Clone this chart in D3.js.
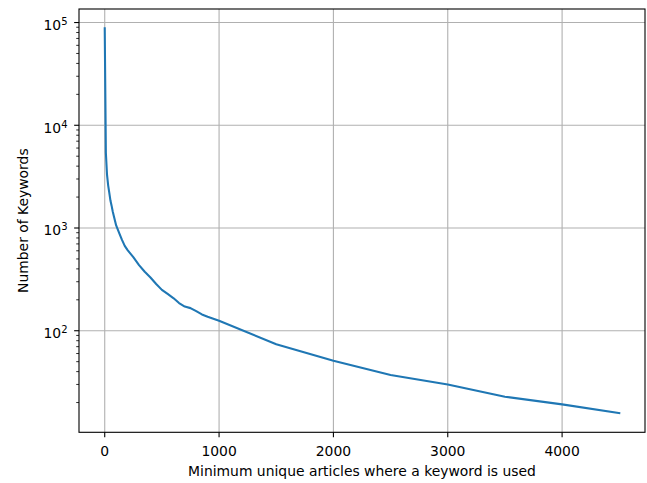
<!DOCTYPE html>
<html>
<head>
<meta charset="utf-8">
<script src="https://cdn.jsdelivr.net/npm/d3@7"></script>
<style>
  html, body { margin: 0; padding: 0; background: #ffffff; }
  svg { display: block; }
  text { font-family: "DejaVu Sans", sans-serif; fill: #000; }
</style>
</head>
<body>
<div id="chart"></div>
<script>
// ---- data ----
const minArticles = [0, 10, 20, 30, 40, 50, 60, 70, 80, 100, 125, 150, 175, 200, 250, 300, 350, 400, 450, 500,
  550, 600, 650, 700, 750, 800, 850, 900, 950, 1000, 1500, 2000, 2500, 3000, 3500, 4000, 4500];
const keywordCounts = [88000, 5400, 3300, 2600, 2200, 1850, 1650, 1450, 1300, 1060, 900, 770, 670, 610, 520, 435, 375, 330, 285, 250,
  228, 208, 186, 172, 166, 155, 144, 137, 131, 125, 74, 51, 37, 30, 22.8, 19.2, 15.8];
const xTicks = [0, 1000, 2000, 3000, 4000];
const yTickExponents = [2, 3, 4, 5];
const xLabel = "Minimum unique articles where a keyword is used";
const yLabel = "Number of Keywords";

// ---- layout ----
const W = 647, H = 483;
const plot = { left: 79, right: 645, top: 9, bottom: 432.3 };
const fontSize = 13.9;

const svg = d3.select("#chart").append("svg").attr("width", W).attr("height", H);

// x domain with 5% margins (matplotlib style)
const [xmin, xmax] = d3.extent(minArticles);
const xpad = (xmax - xmin) * 0.05;
const x = d3.scaleLinear().domain([xmin - xpad, xmax + xpad]).range([plot.left, plot.right]);

// y log domain with 5% margins in log space
const [ymin, ymax] = d3.extent(keywordCounts);
const lmin = Math.log10(ymin), lmax = Math.log10(ymax);
const lpad = (lmax - lmin) * 0.05;
const y = d3.scaleLog().domain([Math.pow(10, lmin - lpad), Math.pow(10, lmax + lpad)]).range([plot.bottom, plot.top]);

const gridColor = "#b0b0b0";
const g = svg.append("g");

// grid
g.append("g").selectAll("line").data(xTicks).join("line")
  .attr("x1", d => x(d)).attr("x2", d => x(d))
  .attr("y1", plot.top).attr("y2", plot.bottom)
  .attr("stroke", gridColor).attr("stroke-width", 1.1);
g.append("g").selectAll("line").data(yTickExponents).join("line")
  .attr("x1", plot.left).attr("x2", plot.right)
  .attr("y1", d => y(Math.pow(10, d))).attr("y2", d => y(Math.pow(10, d)))
  .attr("stroke", gridColor).attr("stroke-width", 1.1);

// line
const line = d3.line().x((d, i) => x(minArticles[i])).y(d => y(d));
g.append("path").datum(keywordCounts)
  .attr("d", line)
  .attr("fill", "none")
  .attr("stroke", "#1f77b4")
  .attr("stroke-width", 2.08)
  .attr("stroke-linecap", "square")
  .attr("stroke-linejoin", "round");

// frame
g.append("rect")
  .attr("x", plot.left).attr("y", plot.top)
  .attr("width", plot.right - plot.left).attr("height", plot.bottom - plot.top)
  .attr("fill", "none").attr("stroke", "#000").attr("stroke-width", 1.1);

// x axis ticks
const xAxis = g.append("g");
xAxis.selectAll("line").data(xTicks).join("line")
  .attr("x1", d => x(d)).attr("x2", d => x(d))
  .attr("y1", plot.bottom).attr("y2", plot.bottom + 4.86)
  .attr("stroke", "#000").attr("stroke-width", 1.1);
xAxis.selectAll("text").data(xTicks).join("text")
  .attr("x", d => x(d)).attr("y", 455.5)
  .attr("text-anchor", "middle")
  .attr("font-size", fontSize)
  .text(d => d);

// y axis major ticks
const yAxis = g.append("g");
yAxis.selectAll("line.major").data(yTickExponents).join("line")
  .attr("class", "major")
  .attr("x1", plot.left - 4.86).attr("x2", plot.left)
  .attr("y1", d => y(Math.pow(10, d))).attr("y2", d => y(Math.pow(10, d)))
  .attr("stroke", "#000").attr("stroke-width", 1.1);

// y minor ticks (2..9 x 10^k inside domain)
const [d0, d1] = y.domain();
const minors = [];
for (let k = Math.floor(Math.log10(d0)); k <= Math.ceil(Math.log10(d1)); k++) {
  for (let m = 2; m <= 9; m++) {
    const v = m * Math.pow(10, k);
    if (v >= d0 && v <= d1) minors.push(v);
  }
}
yAxis.selectAll("line.minor").data(minors).join("line")
  .attr("class", "minor")
  .attr("x1", plot.left - 2.78).attr("x2", plot.left)
  .attr("y1", d => y(d)).attr("y2", d => y(d))
  .attr("stroke", "#000").attr("stroke-width", 0.83);

// y tick labels with superscripts
const yl = yAxis.selectAll("text").data(yTickExponents).join("text")
  .attr("x", 67.5).attr("y", d => y(Math.pow(10, d)) + 7.3)
  .attr("text-anchor", "end")
  .attr("font-size", fontSize);
yl.append("tspan").text("10");
yl.append("tspan").attr("dy", -5).attr("font-size", 10).text(d => d);

// axis labels
svg.append("text")
  .attr("x", (plot.left + plot.right) / 2).attr("y", 476)
  .attr("text-anchor", "middle").attr("font-size", fontSize)
  .text(xLabel);
svg.append("text")
  .attr("transform", `translate(28,${(plot.top + plot.bottom) / 2}) rotate(-90)`)
  .attr("text-anchor", "middle").attr("font-size", fontSize)
  .text(yLabel);
</script>
</body>
</html>
